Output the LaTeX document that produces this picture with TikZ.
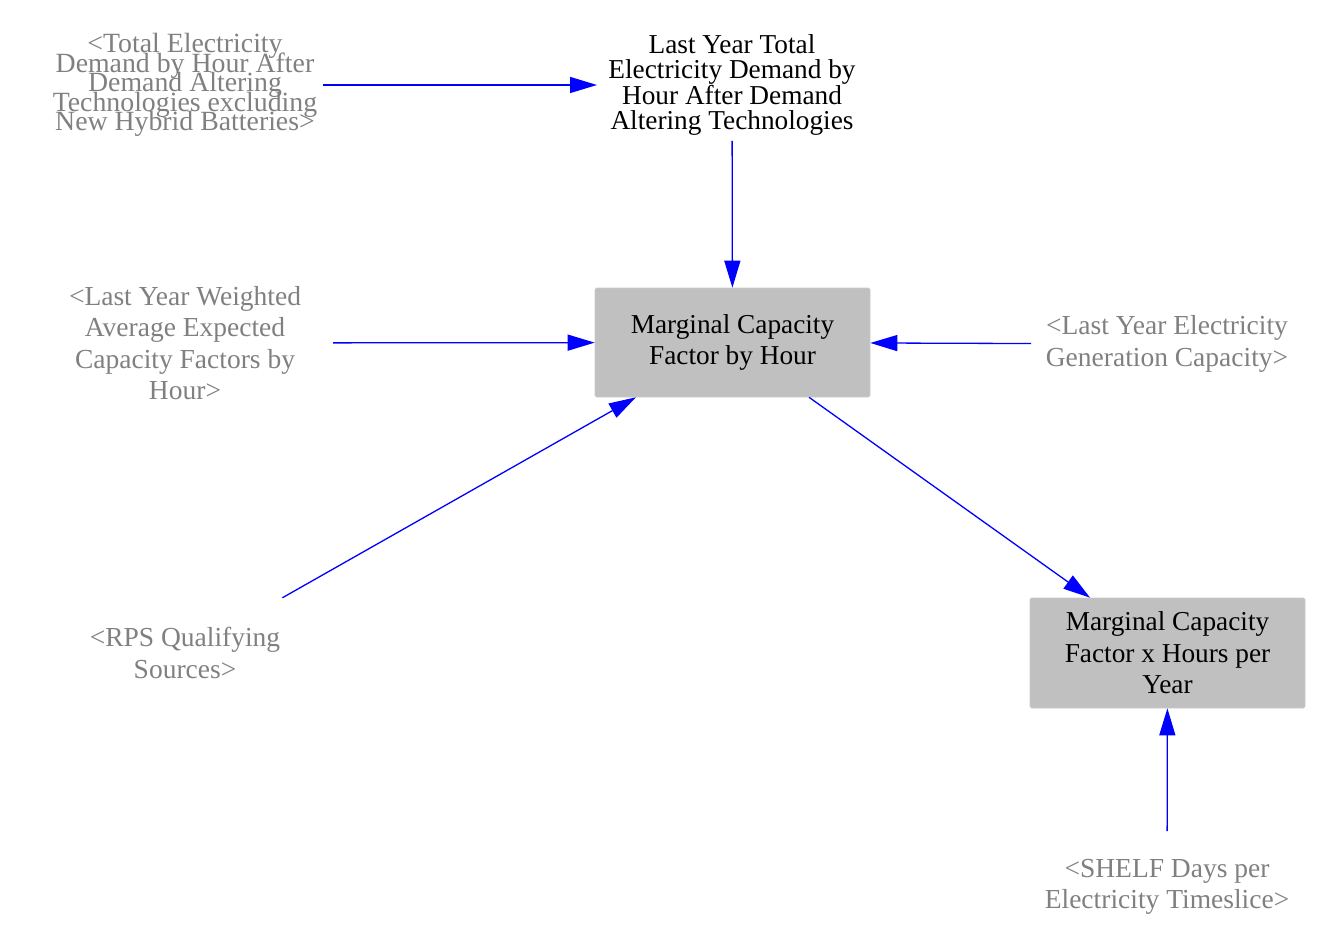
\documentclass[tikz,border=0pt]{standalone}
\usepackage{fontspec}
\setmainfont{Liberation Serif}
\usetikzlibrary{arrows.meta}
\definecolor{shadowtxt}{RGB}{128,128,128}
\definecolor{boxfill}{RGB}{192,192,192}
\definecolor{arrblue}{RGB}{0,0,255}
\newcommand\mytightlines{\lineskiplimit=-100pt\relax\lineskip=0pt\relax}
\tikzset{
  ghost/.style={align=center, text=shadowtxt, inner sep=0pt, font=\fontsize{27.5}{31.5}\selectfont},
  plain/.style={align=center, text=black, inner sep=0pt},
  varbox/.style={align=center, text=black, fill=boxfill, draw=boxfill!85!white, line width=0.6pt,
    rounded corners=1.5pt, minimum width=275pt, inner sep=0pt, font=\fontsize{27.3}{31.5}\selectfont},
  arr/.style={draw=arrblue, line width=1.3pt, -{Triangle[length=27pt,width=16pt]}}
}
\begin{document}
\begin{tikzpicture}[x=1pt,y=-1pt]
\useasboundingbox (0,0) rectangle (1329,928);
\node[ghost, font={\fontsize{27.8}{19.6}\selectfont\mytightlines}] (te) at (185,85) {<Total Electricity\\Demand by Hour After\\Demand Altering\\Technologies excluding\\New Hybrid Batteries>};
\node[plain, font={\fontsize{27.3}{25.5}\selectfont\mytightlines}] (ly) at (732,85) {Last Year Total\\Electricity Demand by\\Hour After Demand\\Altering Technologies};
\node[varbox, minimum height=109pt] (mcf) at (732.5,342.5) {Marginal Capacity\\Factor by Hour};
\node[ghost] (lyw) at (185,343) {<Last Year Weighted\\Average Expected\\Capacity Factors by\\Hour>};
\node[ghost] (lye) at (1167,344) {<Last Year Electricity\\Generation Capacity>};
\node[ghost] (rps) at (185,653) {<RPS Qualifying\\Sources>};
\node[varbox, minimum height=110pt] (mcfh) at (1167.5,653) {Marginal Capacity\\Factor x Hours per\\Year};
\node[ghost] (shelf) at (1167,887) {<SHELF Days per\\Electricity Timeslice>};

\draw[arr, shorten <=138pt, shorten >=135pt] (te.center) -- (ly.center);
\draw[arr, shorten <=56pt] (ly.center) -- (mcf);
\draw[arr, shorten <=148pt] (lyw.center) -- (mcf);
\draw[arr, shorten <=136pt] (lye.center) -- (mcf);
\draw[arr, shorten <=112pt] (rps.center) -- (mcf);
\draw[arr] (mcf) -- (mcfh);
\draw[arr, shorten <=56pt] (shelf.center) -- (mcfh);
\end{tikzpicture}
\end{document}
